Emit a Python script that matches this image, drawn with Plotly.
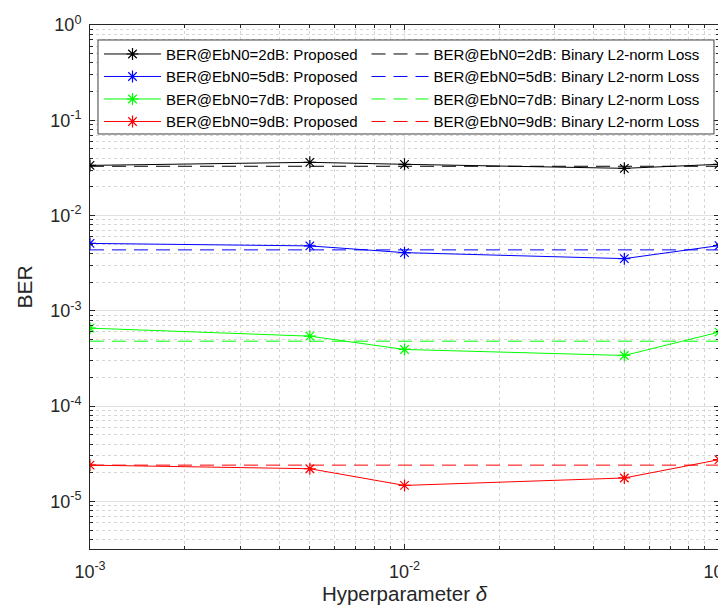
import plotly.graph_objects as go

delta = [1e-3, 5e-3, 1e-2, 5e-2, 1e-1]
snr_labels = ["2dB", "5dB", "7dB", "9dB"]
colors = ["#000000", "#0000FF", "#00FF00", "#FF0000"]
ber_proposed = [
    [0.0336, 0.0362, 0.0345, 0.0313, 0.0345],
    [0.0051, 0.0048, 0.00408, 0.00353, 0.00484],
    [0.000658, 0.000542, 0.000393, 0.00034, 0.000597],
    [2.40e-5, 2.20e-5, 1.47e-5, 1.76e-5, 2.74e-5],
]
ber_l2 = [0.0329, 0.00436, 0.00048, 2.40e-5]

xtick_vals = [1e-3, 1e-2, 1e-1]
xtick_text = ["10<sup>-3</sup>", "10<sup>-2</sup>", "10<sup>-1</sup>"]
ytick_vals = [1e-5, 1e-4, 1e-3, 1e-2, 1e-1, 1e0]
ytick_text = ["10<sup>-5</sup>", "10<sup>-4</sup>", "10<sup>-3</sup>",
              "10<sup>-2</sup>", "10<sup>-1</sup>", "10<sup>0</sup>"]

FONT = "Liberation Sans, Arial, Helvetica"
TXT = "#262626"

fig = go.Figure()
for lab, col, yp in zip(snr_labels, colors, ber_proposed):
    fig.add_trace(go.Scatter(
        x=delta, y=yp, mode="lines+markers",
        name=f"BER@EbN0={lab}: Proposed",
        legend="legend",
        line=dict(color=col, width=1),
        marker=dict(symbol="asterisk-open", size=10, color=col,
                    line=dict(color=col, width=1.2)),
    ))
for lab, col, yl in zip(snr_labels, colors, ber_l2):
    fig.add_trace(go.Scatter(
        x=[delta[0], delta[-1]], y=[yl, yl], mode="lines",
        name=f"BER@EbN0={lab}: Binary L2-norm Loss",
        legend="legend2",
        line=dict(color=col, width=1, dash="14px,8px"),
    ))

axis_common = dict(
    type="log",
    automargin=False,
    showline=True, linecolor=TXT, linewidth=1, mirror="ticks",
    ticks="inside", ticklen=5, tickcolor=TXT,
    showgrid=True, gridcolor="#e0e0e0", gridwidth=1,
    zeroline=False,
    ticklabeloverflow="allow",
    tickfont=dict(family=FONT, size=18, color=TXT),
    minor=dict(dtick="D1", showgrid=True, gridcolor="#d6d6d6", griddash="dot",
               gridwidth=1, ticks="inside", ticklen=3, tickcolor=TXT),
)

fig.update_xaxes(
    **axis_common,
    range=[-3.0000001, -0.9999999],
    tickvals=xtick_vals, ticktext=xtick_text,
    ticklabelstandoff=6,
    title=dict(text="Hyperparameter <i>δ</i>",
               font=dict(family=FONT, size=20.5, color=TXT),
               standoff=6),
)
fig.update_yaxes(
    **axis_common,
    range=[-5.5, 0.0000001],
    tickvals=ytick_vals, ticktext=ytick_text,
    ticklabelstandoff=4,
    title=dict(text="BER",
               font=dict(family=FONT, size=21, color=TXT),
               standoff=11),
)

legend_common = dict(
    orientation="v",
    yanchor="top", xanchor="left", y=0.9757,
    bgcolor="rgba(0,0,0,0)", borderwidth=0,
    font=dict(family=FONT, size=15, color="#000000"),
    itemwidth=57,
    tracegroupgap=0,
)

fig.update_layout(
    width=726, height=610,
    margin=dict(l=82, r=15, t=17, b=69),
    plot_bgcolor="white", paper_bgcolor="white",
    showlegend=True,
    legend=dict(**legend_common, x=0.0143),
    legend2=dict(**legend_common, x=0.4396),
    shapes=[dict(
        type="rect", xref="paper", yref="paper",
        x0=0.0127, x1=0.9920, y0=0.792, y1=0.9714,
        line=dict(color="#404040", width=1),
        fillcolor="white", layer="above",
    )],
)

fig.write_html("out.html")
